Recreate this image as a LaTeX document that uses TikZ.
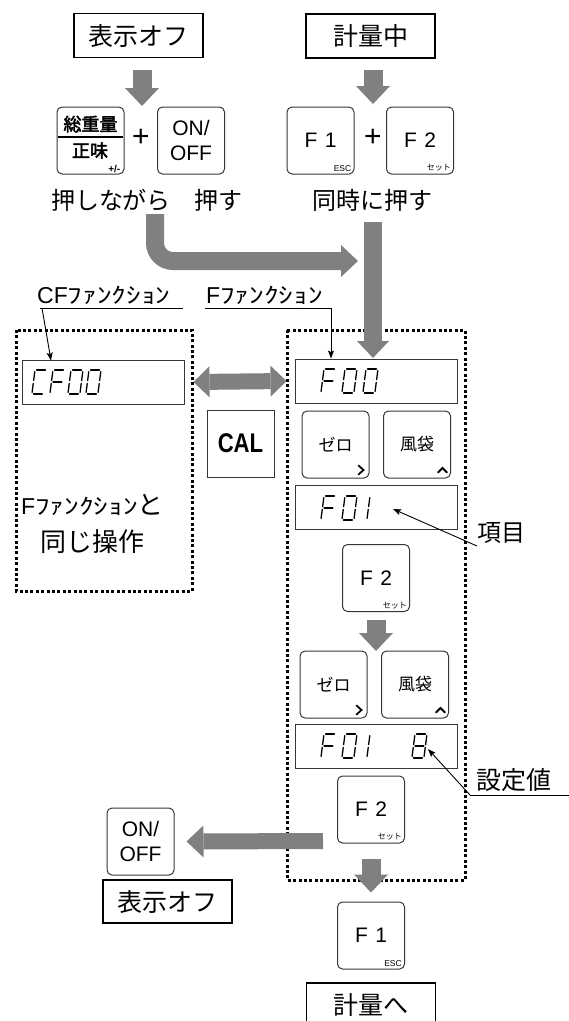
\documentclass[tikz,border=0pt]{standalone}
\usepackage{fontspec}
\usepackage{graphicx}
\setmainfont{Liberation Sans}
\newfontfamily\jp[AutoFakeBold=2.5]{Noto Sans CJK JP}
\usetikzlibrary{arrows.meta}
\definecolor{agray}{RGB}{128,128,128}
\definecolor{kgray}{RGB}{55,55,55}
% seven segment pieces (cell 12 x 24, y downwards)
\newcommand\sgA{\draw[segln] (1.6,0)--(10.4,0);}
\newcommand\sgB{\draw[segln] (12,1.6)--(12,10.6);}
\newcommand\sgC{\draw[segln] (12,13.4)--(12,22.4);}
\newcommand\sgD{\draw[segln] (1.6,24)--(10.4,24);}
\newcommand\sgE{\draw[segln] (0,13.4)--(0,22.4);}
\newcommand\sgF{\draw[segln] (0,1.6)--(0,10.6);}
\newcommand\sgG{\draw[segln] (1.6,12)--(10.4,12);}
\newcommand\chF{\sgA\sgF\sgE\sgG}
\newcommand\chO{\sgA\sgB\sgC\sgD\sgE\sgF}
\newcommand\chC{\sgA\sgF\sgE\sgD}
\newcommand\chI{\sgF\sgE}
\newcommand\chE{\sgA\sgB\sgC\sgD\sgE\sgF\sgG}
\newcommand\segchar[3]{\begin{scope}[shift={(#1,#2)},xslant=0.13]#3\end{scope}}
\newcommand\hwk[1]{{\jp\fontsize{22}{22}\selectfont\scalebox{1.33}[1]{#1}}}
\begin{document}
\begin{tikzpicture}[x=1pt,y=-1pt,
  labelbox/.style={draw=black,line width=1.6pt,minimum width=129pt,minimum height=44pt,inner sep=0pt,font=\jp\fontsize{25}{25}\selectfont},
  key/.style={draw=kgray,line width=1pt,rounded corners=5pt,minimum width=67pt,minimum height=67pt,inner sep=0pt},
  disp/.style={draw=kgray,line width=0.9pt,minimum width=162pt,minimum height=44pt,inner sep=0pt},
  frame/.style={line width=3pt,dash pattern=on 3pt off 2.4pt},
  segln/.style={line width=1.3pt,line cap=round,black},
  garr/.style={draw=agray,line width=19pt,-{Triangle[width=34pt,length=18pt,line width=0pt]}},
  garrs/.style={draw=agray,line width=16pt,-{Triangle[width=32pt,length=17pt,line width=0pt]}},
  garrd/.style={draw=agray,line width=16pt,{Triangle[width=31pt,length=16pt,line width=0pt]}-{Triangle[width=31pt,length=16pt,line width=0pt]}},
  lead/.style={draw=black,line width=0.9pt,-{Stealth[length=8pt,width=6pt,inset=1.5pt]}},
  jptext/.style={font=\jp\fontsize{24}{24}\selectfont,inner sep=0pt},
  keyfont/.style={font=\fontsize{21}{25}\selectfont,align=center,inner sep=0pt},
  keyjp/.style={font=\jp\fontsize{17}{17}\selectfont,inner sep=0pt},
  esc/.style={anchor=south east,inner sep=0pt,font=\fontsize{8.5}{8.5}\selectfont},
  setto/.style={anchor=south east,inner sep=0pt,font=\jp\fontsize{8}{8}\selectfont},
  plus/.style={font=\fontsize{30}{30}\selectfont,inner sep=0pt},
  keymark/.style={line width=1.8pt,black,line cap=round,line join=miter}
]
\useasboundingbox (0,0) rectangle (569,1021);

% dotted frames
\draw[frame] (16,330) rectangle (192,591);
\draw[frame] (287,330) rectangle (465,880);

% boxed labels
\node[labelbox] (off1) at (138.5,35.5) {表示オフ};
\node[labelbox] (keiryo) at (370.5,36) {計量中};
\node[labelbox,minimum height=43pt] (off2) at (167.5,901.5) {表示オフ};
\node[labelbox] (hee) at (371,1005) {計量へ};

% top left keys
\node[key] (kSou) at (90.5,140.5) {};
\node[keyjp,font=\jp\bfseries\fontsize{18}{18}\selectfont] (souT) at (90.5,124) {総重量};
\draw[line width=1.1pt] (58,137) -- (123,137);
\node[keyjp,font=\jp\bfseries\fontsize{18}{18}\selectfont] (souB) at (90,150.5) {正味};
\node[esc,font=\bfseries\fontsize{10}{10}\selectfont] (pm) at ([shift={(-4,-2)}]kSou.south east) {+/-};
\node[plus] (plus1) at (141,138) {+};
\node[key] (kOn1) at (191,140.5) {};
\node[keyfont] (kOn1t) at (kOn1) {ON/\\OFF};
\node[jptext] (osu1) at (147,200) {押しながら　押す};

% top right keys
\node[key] (kF1a) at (320.5,140.5) {};
\node[keyfont] (kF1at) at (kF1a) {F\hspace{0.35em}1};
\node[esc] (esc1) at ([shift={(-3,-3)}]kF1a.south east) {ESC};
\node[plus] (plus2) at (373,138) {+};
\node[key] (kF2a) at (420,140.5) {};
\node[keyfont] (kF2at) at (kF2a) {F\hspace{0.35em}2};
\node[setto] (set1) at ([shift={(-3,-3)}]kF2a.south east) {セット};
\node[jptext] (doji) at (372,200) {同時に押す};

% top arrows
\coordinate (a1s) at (142,70);
\coordinate (a1e) at (142,106);
\draw[garr] (a1s) -- (a1e);
\coordinate (a2s) at (373,70);
\coordinate (a2e) at (373,104);
\draw[garr] (a2s) -- (a2e);

% curved arrow and main vertical arrow
\coordinate (c0) at (155,214);
\coordinate (c1) at (358,261);
\draw[garrs,line width=18pt,rounded corners=18pt] (c0) |- (c1);
\coordinate (v0) at (373,222);
\coordinate (v1) at (373,358);

% left column
\node[disp] (dCF) at (103,382) {};
\segchar{35}{370}{\chC}
\segchar{53}{370}{\chF}
\segchar{71}{370}{\chO}
\segchar{89}{370}{\chO}
\node[draw=kgray,line width=1pt,minimum width=67pt,minimum height=67pt,inner sep=0pt,font=\bfseries\fontsize{27}{27}\selectfont] (cal) at (240.5,443.5) {\scalebox{0.82}[1]{CAL}};
\node[anchor=base west,inner sep=0pt,font=\fontsize{23}{23}\selectfont] (cflbl) at (37,303) {CF\hwk{ﾌｧﾝｸｼｮﾝ}};
\draw[line width=0.9pt] (40,308) -- (183,308);
\draw[lead] (42,308) -- ([xshift=-52pt,yshift=-1pt]dCF.north);
\node[anchor=base west,inner sep=0pt,font=\fontsize{23}{23}\selectfont] (same1) at (21,514) {F\hwk{ﾌｧﾝｸｼｮﾝ}{\jp\fontsize{26}{26}\selectfont と}};
\node[jptext,font=\jp\fontsize{26}{26}\selectfont] (same2) at (93,542) {同じ操作};

% right column
\node[disp] (dF00) at (376,381) {};
\segchar{324}{369}{\chF}
\segchar{345}{369}{\chO}
\segchar{366}{369}{\chO}
\node[anchor=base west,inner sep=0pt,font=\fontsize{23}{23}\selectfont] (flbl) at (206,303) {F\hwk{ﾌｧﾝｸｼｮﾝ}};
\draw[line width=0.9pt] (205,308) -- (331,308);
\draw[lead] (331,308) -- ([xshift=-45pt]dF00.north);

\draw[garrs,line width=18pt] (v0) -- (v1);
\draw[garrd] ([xshift=9pt]dCF.east) -- ([xshift=-8pt]dF00.west);

\node[key] (kZero1) at (335.5,444.5) {};
\node[keyjp] (z1t) at (kZero1) {ゼロ};
\draw[keymark] ([shift={(-11,-13)}]kZero1.south east) -- ([shift={(-6,-8.5)}]kZero1.south east) -- ([shift={(-11,-4)}]kZero1.south east);
\node[key] (kFuu1) at (417,444.5) {};
\node[keyjp] (f1t) at (kFuu1) {風袋};
\draw[keymark] ([shift={(-13,-6)}]kFuu1.south east) -- ([shift={(-8.5,-10.5)}]kFuu1.south east) -- ([shift={(-4,-6)}]kFuu1.south east);

\node[disp] (dF01) at (376,507.5) {};
\segchar{324}{496}{\chF}
\segchar{345}{496}{\chO}
\segchar{370}{496}{\chI}
\node[jptext] (komoku) at (501,533) {項目};
\draw[lead] (477,546) -- (393,509);

\node[key] (kF2b) at (376,578) {};
\node[keyfont] (kF2bt) at (kF2b) {F\hspace{0.35em}2};
\node[setto] (set2) at ([shift={(-3,-3)}]kF2b.south east) {セット};
\draw[garr] ([yshift=-8pt]kF2b.south) -- ([yshift=-39pt]kF2b.south);

\node[key] (kZero2) at (333.5,684.5) {};
\node[keyjp] (z2t) at (kZero2) {ゼロ};
\draw[keymark] ([shift={(-11,-13)}]kZero2.south east) -- ([shift={(-6,-8.5)}]kZero2.south east) -- ([shift={(-11,-4)}]kZero2.south east);
\node[key] (kFuu2) at (415,684.5) {};
\node[keyjp] (f2t) at (kFuu2) {風袋};
\draw[keymark] ([shift={(-13,-6)}]kFuu2.south east) -- ([shift={(-8.5,-10.5)}]kFuu2.south east) -- ([shift={(-4,-6)}]kFuu2.south east);

\node[disp] (dF018) at (376,746) {};
\segchar{324}{734}{\chF}
\segchar{345}{734}{\chO}
\segchar{370}{734}{\chI}
\segchar{415}{734}{\chE}
\node[jptext,font=\jp\fontsize{25}{25}\selectfont] (settei) at (514,780) {設定値};
\draw[line width=0.9pt] (470,795) -- (569,795);
\draw[lead] (470,795) -- (428,749);

\node[key] (kF2c) at (371,809.5) {};
\node[keyfont] (kF2ct) at (kF2c) {F\hspace{0.35em}2};
\node[setto] (set3) at ([shift={(-3,-3)}]kF2c.south east) {セット};

\node[key] (kOn2) at (140.5,841.5) {};
\node[keyfont] (kOn2t) at (kOn2) {ON/\\OFF};
\draw[garrs] ([xshift=-14pt,yshift=-31.5pt]kF2c.west) -- ([xshift=12pt]kOn2.east);

\node[key] (kF1b) at (371,935.5) {};
\node[keyfont] (kF1bt) at (kF1b) {F\hspace{0.35em}1};
\node[esc] (esc2) at ([shift={(-3,-3)}]kF1b.south east) {ESC};
\draw[garr] ([yshift=-15pt]kF2c.south) -- ([yshift=9pt]kF1b.north);
\end{tikzpicture}
\end{document}
